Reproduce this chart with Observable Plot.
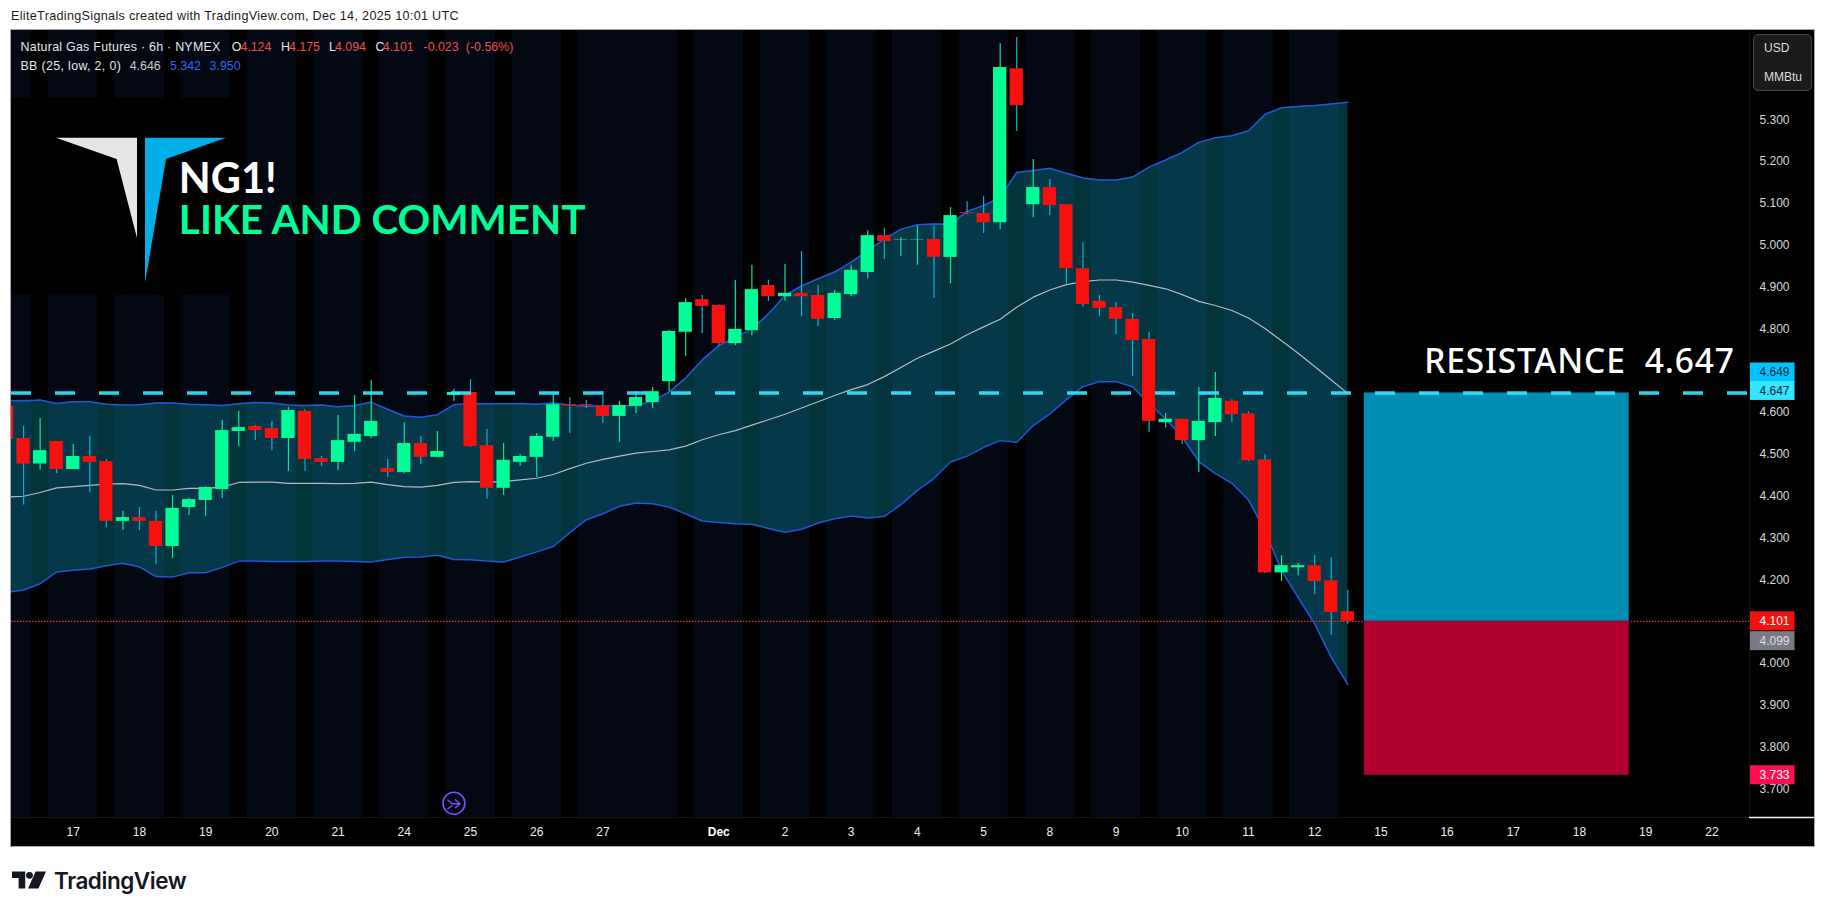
<!DOCTYPE html>
<html><head><meta charset="utf-8">
<script src="https://cdn.jsdelivr.net/npm/d3@7"></script>
<script src="https://cdn.jsdelivr.net/npm/@observablehq/plot@0.6"></script>
<style>
html,body{margin:0;padding:0;background:#fff;width:1826px;height:913px;overflow:hidden;font-family:"Liberation Sans",sans-serif}
.t{position:absolute;white-space:pre;line-height:1}
#chart{position:absolute;left:11px;top:30px;width:1803px;height:816px;outline:1px solid #a8a8a8}
#chart svg{display:block}
</style></head><body>
<div class="t" style="left:11px;top:10px;font-size:12.6px;letter-spacing:.32px;color:#1c1c1c">EliteTradingSignals created with TradingView.com, Dec 14, 2025 10:01 UTC</div>
<div id="chart"></div>
<svg style="position:absolute;left:0;top:0;pointer-events:none" width="300" height="300">
<polygon points="56,137.7 137,137.7 137,238 116.6,159" fill="#e6e6e6"/>
<polygon points="145,137.7 226,137.7 166,159 145,283" fill="#00aee8"/>
</svg>
<div id="legend"></div>
<div style="position:absolute;left:1752.5px;top:33.5px;width:57px;height:55px;border:1px solid #454545;border-radius:5px;background:#1b1b1b"></div>
<div class="t" style="left:1764px;top:42px;font-size:12px;color:#ddd">USD</div>
<div class="t" style="left:1764px;top:71px;font-size:12px;color:#ddd">MMBtu</div>
<svg style="position:absolute;left:12px;top:871px" width="34" height="18" viewBox="0 0 36 18">
<path d="M0 0H14V18H7V7H0Z" fill="#131722"/><circle cx="18.5" cy="4" r="3.6" fill="#131722"/><path d="M25 0H36L28 18H17Z" fill="#131722"/>
</svg>
<div class="t" style="left:54px;top:870px;font-size:22.5px;font-weight:600;font-family:Inter,sans-serif;letter-spacing:-.45px;color:#131722">TradingView</div>
<script>
// Bars run from index -1 (clipped at the left edge) to 80
const firstBar = -1;
const opens = [4.615,4.538,4.477,4.531,4.464,4.495,4.483,4.340,4.349,4.340,4.280,4.373,4.390,4.416,4.555,4.567,4.562,4.538,4.603,4.490,4.481,4.529,4.543,4.466,4.457,4.526,4.493,4.641,4.648,4.521,4.419,4.481,4.493,4.541,4.619,4.619,4.616,4.591,4.615,4.624,4.674,4.792,4.870,4.856,4.765,4.796,4.904,4.877,4.885,4.880,4.825,4.882,4.935,5.023,5.012,5.012,5.014,4.971,5.078,5.076,5.054,5.422,5.097,5.138,5.097,4.944,4.866,4.851,4.823,4.775,4.576,4.584,4.533,4.576,4.627,4.597,4.487,4.217,4.229,4.234,4.198,4.124];
const highs = [4.630,4.567,4.586,4.531,4.524,4.543,4.488,4.364,4.373,4.364,4.402,4.395,4.423,4.581,4.603,4.569,4.579,4.612,4.607,4.495,4.593,4.641,4.677,4.488,4.576,4.543,4.555,4.655,4.679,4.560,4.526,4.500,4.550,4.643,4.636,4.629,4.650,4.627,4.650,4.660,4.797,4.873,4.880,4.858,4.916,4.952,4.916,4.954,4.985,4.904,4.892,4.952,5.035,5.040,5.018,5.045,5.047,5.090,5.104,5.116,5.482,5.497,5.205,5.157,5.097,5.006,4.880,4.863,4.837,4.791,4.598,4.584,4.660,4.696,4.631,4.602,4.499,4.258,4.239,4.258,4.253,4.175];
const lows = [4.500,4.379,4.462,4.454,4.464,4.409,4.325,4.318,4.318,4.237,4.251,4.354,4.352,4.395,4.519,4.533,4.509,4.459,4.459,4.471,4.462,4.507,4.538,4.445,4.454,4.476,4.493,4.627,4.517,4.392,4.402,4.471,4.445,4.531,4.550,4.610,4.574,4.529,4.598,4.610,4.650,4.734,4.789,4.758,4.760,4.784,4.866,4.866,4.830,4.806,4.820,4.877,4.920,4.966,4.973,4.952,4.873,4.908,5.073,5.028,5.038,5.272,5.066,5.071,4.908,4.851,4.830,4.787,4.686,4.552,4.564,4.524,4.457,4.543,4.576,4.483,4.215,4.196,4.210,4.165,4.067,4.094];
const closes = [4.536,4.477,4.509,4.464,4.495,4.481,4.340,4.349,4.340,4.280,4.371,4.392,4.421,4.557,4.564,4.557,4.538,4.605,4.488,4.481,4.533,4.548,4.579,4.457,4.526,4.493,4.507,4.648,4.519,4.419,4.486,4.495,4.543,4.619,4.616,4.616,4.591,4.617,4.636,4.650,4.794,4.863,4.854,4.765,4.799,4.894,4.877,4.885,4.877,4.823,4.885,4.940,5.023,5.009,5.013,5.013,4.971,5.071,5.076,5.054,5.425,5.334,5.138,5.095,4.944,4.858,4.849,4.823,4.772,4.579,4.584,4.533,4.579,4.634,4.595,4.485,4.217,4.234,4.234,4.196,4.122,4.101];
const bbUpper = [4.629,4.628,4.630,4.622,4.626,4.626,4.620,4.618,4.619,4.623,4.623,4.620,4.619,4.617,4.621,4.624,4.623,4.618,4.617,4.618,4.614,4.617,4.625,4.608,4.592,4.589,4.595,4.619,4.622,4.621,4.621,4.622,4.620,4.623,4.618,4.615,4.616,4.616,4.617,4.628,4.649,4.683,4.726,4.760,4.780,4.800,4.836,4.880,4.903,4.920,4.936,4.960,4.987,5.015,5.038,5.049,5.051,5.050,5.081,5.095,5.115,5.174,5.179,5.184,5.172,5.161,5.156,5.156,5.163,5.187,5.204,5.222,5.246,5.257,5.262,5.274,5.313,5.329,5.332,5.334,5.338,5.342];
const bbBasis = [4.398,4.400,4.409,4.420,4.423,4.426,4.429,4.430,4.426,4.415,4.415,4.419,4.419,4.422,4.433,4.434,4.434,4.431,4.431,4.431,4.430,4.431,4.434,4.428,4.423,4.422,4.426,4.433,4.435,4.434,4.435,4.439,4.443,4.452,4.466,4.479,4.488,4.496,4.503,4.507,4.511,4.520,4.535,4.547,4.557,4.570,4.583,4.596,4.611,4.626,4.641,4.655,4.667,4.686,4.708,4.730,4.747,4.764,4.786,4.805,4.823,4.852,4.876,4.893,4.906,4.913,4.917,4.917,4.912,4.904,4.896,4.882,4.866,4.856,4.844,4.826,4.801,4.772,4.742,4.710,4.678,4.646];
const bbLower = [4.170,4.176,4.191,4.219,4.223,4.226,4.234,4.240,4.231,4.208,4.207,4.217,4.217,4.230,4.245,4.245,4.244,4.244,4.244,4.245,4.245,4.244,4.243,4.249,4.254,4.255,4.259,4.249,4.248,4.245,4.243,4.255,4.267,4.280,4.313,4.344,4.358,4.376,4.384,4.382,4.374,4.358,4.341,4.337,4.334,4.333,4.323,4.314,4.321,4.336,4.346,4.353,4.348,4.352,4.380,4.414,4.443,4.482,4.496,4.517,4.533,4.529,4.569,4.597,4.631,4.662,4.674,4.674,4.662,4.621,4.585,4.541,4.483,4.454,4.431,4.391,4.318,4.222,4.158,4.095,4.015,3.950];
const closedBars = [1,5,9,13,17,21,25,29,33,40,44,48,52,56,60,64,68,72,76];
const priceTicks = [3.7,3.8,3.9,4.0,4.1,4.2,4.3,4.4,4.5,4.6,4.7,4.8,4.9,5.0,5.1,5.2,5.3];
const dayBars = [3,7,11,15,19,23,27,31,35,46,50,54,58,62,66,70,74,78,82,86,90,94,98,102];
const dayLabels = ["17","18","19","20","21","24","25","26","27","2","3","4","5","8","9","10","11","12","15","16","17","18","19","22"];
const monthBars = [42];
const monthLabels = ["Dec"];
const resistance = 4.647;
const lastClose = 4.101;
const stopLevel = 3.733;
const badgeLabels = ["4.649","4.647","4.101","4.099","3.733"];
const badgeValues = [4.649,4.647,4.101,4.099,3.733];
const markerBars = [26];
const markerPrices = [3.666];

const C = {green:"#00ff99", red:"#f7110e", upWick:"#00e89a", downWick:"#00b6d6", navy:"#030813", band:"#0aadc8",
  line:"#2158d6", basis:"#b5b8c0", dash:"#33e6ff", box1:"#008db3", box2:"#b00030"};

const bars = opens.map((o,i)=>({i:i+firstBar,o,h:highs[i],l:lows[i],c:closes[i],up:closes[i]>=o,u:bbUpper[i],b:bbBasis[i],d:bbLower[i]}));
const xMin=-0.73, xAxisEdge=104.27, yMin=3.632, yMax=5.5135, hw=0.4;
const barBody = d => [Math.min(d.o,d.c), Math.max(d.o,d.c)];
// badge slots: rows shifted apart where labels would collide (px → price at the scale's slope)
const pxPrice = (yMax-yMin)/787;
const badgeShift = [-19.6,-2,0,19,0];
const badges = badgeLabels.map((t,i)=>({t,v:badgeValues[i]-badgeShift[i]*pxPrice}));
const badgeFill = ["#00c4ff","#33e6ff","#f2120f","#787b86","#ff0f50"];
const badgeText = ["#124","#124","#fff","#ddd","#fff"];

// glyph inside the marker circle: a forked arrow
const forkArrow = {draw(c){
  c.moveTo(-6,-3.5);c.lineTo(-1.5,0);c.lineTo(6,0);
  c.moveTo(1.5,-4);c.lineTo(6,0);c.lineTo(1.5,4);
  c.moveTo(-6,5);c.lineTo(-2,2);
}};

const pane = [{x1:xMin,x2:79.5}];
const chart = Plot.plot({
  width:1803,height:816,marginTop:0,marginLeft:0,marginRight:65,marginBottom:29,
  x:{type:"linear",domain:[xMin,xAxisEdge],axis:null},
  y:{type:"linear",domain:[yMin,yMax],axis:null},
  style:{background:"#000",fontFamily:"'Liberation Sans',sans-serif",overflow:"visible"},
  marks:[
    Plot.rect(pane,{x1:"x1",x2:"x2",y1:yMin,y2:yMax,fill:C.navy}),
    Plot.rect(closedBars,{x1:d=>d-0.5,x2:d=>d+0.5,y1:yMin,y2:yMax,fill:"#000"}),
    // black backing of the logo image
    Plot.rect([{}],{x1:xMin,x2:13.46,y1:4.88,y2:5.351,fill:"#000"}),
    Plot.areaY(bars,{x:"i",y1:"d",y2:"u",fill:C.band,fillOpacity:0.3,clip:true}),
    Plot.line(bars,{x:"i",y:"u",stroke:C.line,strokeWidth:1.5,clip:true}),
    Plot.line(bars,{x:"i",y:"d",stroke:C.line,strokeWidth:1.5,clip:true}),
    Plot.line(bars,{x:"i",y:"b",stroke:C.basis,strokeWidth:1.2,clip:true}),
    Plot.ruleY([lastClose],{x1:xMin,x2:xAxisEdge,stroke:"#ff2a1f",strokeWidth:1.2,strokeDasharray:"1.5 1.5"}),
    Plot.rect([{}],{x1:81,x2:97,y1:lastClose,y2:resistance,fill:C.box1}),
    Plot.rect([{}],{x1:81,x2:97,y1:stopLevel,y2:lastClose,fill:C.box2}),
    Plot.ruleX(bars,{x:"i",y1:"l",y2:"h",stroke:d=>d.up?C.upWick:C.downWick,strokeWidth:1.2,clip:true}),
    Plot.rect(bars,{x1:d=>d.i-hw,x2:d=>d.i+hw,y1:d=>barBody(d)[0],y2:d=>barBody(d)[1],fill:d=>d.up?C.green:C.red,clip:true}),
    Plot.ruleY([resistance],{x1:xMin,x2:xAxisEdge,stroke:C.dash,strokeWidth:3.6,strokeDasharray:"20 24",strokeOpacity:.92}),
    // price axis and day axis
    Plot.axisY(priceTicks,{anchor:"right",tickSize:0,tickPadding:10,tickFormat:".3f",fontSize:12,fill:"#d8d8d8",label:null}),
    Plot.axisX(dayBars,{anchor:"bottom",tickSize:0,tickPadding:10,tickFormat:d=>dayLabels[dayBars.indexOf(d)],fontSize:12,fill:"#eee",label:null}),
    Plot.axisX(monthBars,{anchor:"bottom",tickSize:0,tickPadding:10,tickFormat:d=>monthLabels[monthBars.indexOf(d)],fontSize:12,fontWeight:"bold",fill:"#fff",label:null}),
    Plot.ruleX([xAxisEdge],{stroke:"#151515"}),
    Plot.ruleY([yMin],{x1:xMin,x2:xAxisEdge,stroke:"#151515"}),
    Plot.ruleY([yMin],{x1:xAxisEdge,x2:108.2,stroke:"#eee",strokeWidth:1.5}),
    // right-hand price badges
    Plot.rect(badges,{x1:104.33,x2:107.02,y1:d=>d.v-9.5*pxPrice,y2:d=>d.v+9.5*pxPrice,fill:(d,i)=>badgeFill[i]}),
    Plot.text(badges,{x:xAxisEdge,y:"v",text:"t",textAnchor:"start",dx:10,fontSize:12,fill:(d,i)=>badgeText[i]}),
    // annotations
    Plot.text(["RESISTANCE\u00a0\u00a04.647"],{x:84.62,y:4.72,text:d=>d,textAnchor:"start",fontSize:33.5,fontWeight:500,fontFamily:"'Noto Sans',sans-serif",fill:"#fff"}),
    Plot.text(["NG1!"],{x:9.38,y:5.157,text:d=>d,textAnchor:"start",fontSize:41.5,fontWeight:700,fontFamily:"Lato,sans-serif",fill:"#fff"}),
    Plot.text(["LIKE AND COMMENT"],{x:9.38,y:5.059,text:d=>d,textAnchor:"start",fontSize:40.5,fontWeight:700,fontFamily:"Lato,sans-serif",fill:"#00ff99"}),
    Plot.dot(markerBars,{x:d=>d,y:(d,i)=>markerPrices[i],r:11,stroke:"#7a4dff",strokeWidth:1.6,fill:"none"}),
    Plot.vector(markerBars,{x:d=>d,y:(d,i)=>markerPrices[i],length:1,rotate:0,shape:forkArrow,stroke:"#7a4dff",strokeWidth:1.4})
  ]
});
document.getElementById("chart").append(chart);
d3.select(chart).selectAll("text").filter(function(){return this.textContent.startsWith("RESISTANCE");}).style("letter-spacing","0.85px");

const legend = [
 [20.5,"Natural Gas Futures · 6h · NYMEX","#e6e6e6",41,.27],
 [231.7,"O","#e6e6e6",41,0],[240.4,"4.124","#f0504c",41,0],
 [281,"H","#e6e6e6",41,0],[289,"4.175","#f0504c",41,0],
 [329,"L","#e6e6e6",41,0],[335,"4.094","#f0504c",41,0],
 [375.6,"C","#e6e6e6",41,0],[382.7,"4.101","#f0504c",41,0],
 [423.5,"-0.023","#f0504c",41,0],[465.8,"(-0.56%)","#f0504c",41,0],
 [20.5,"BB (25, low, 2, 0)","#e6e6e6",60,.35],[129.7,"4.646","#c8c8c8",60,0],
 [170,"5.342","#2f66ef",60,0],[209.6,"3.950","#2f66ef",60,0]];
document.getElementById("legend").innerHTML = legend.map(([x,t,c,y,s])=>`<div class="t" style="left:${x}px;top:${y}px;font-size:12.4px;letter-spacing:${s}px;color:${c}">${t}</div>`).join("");
</script>
</body></html>
